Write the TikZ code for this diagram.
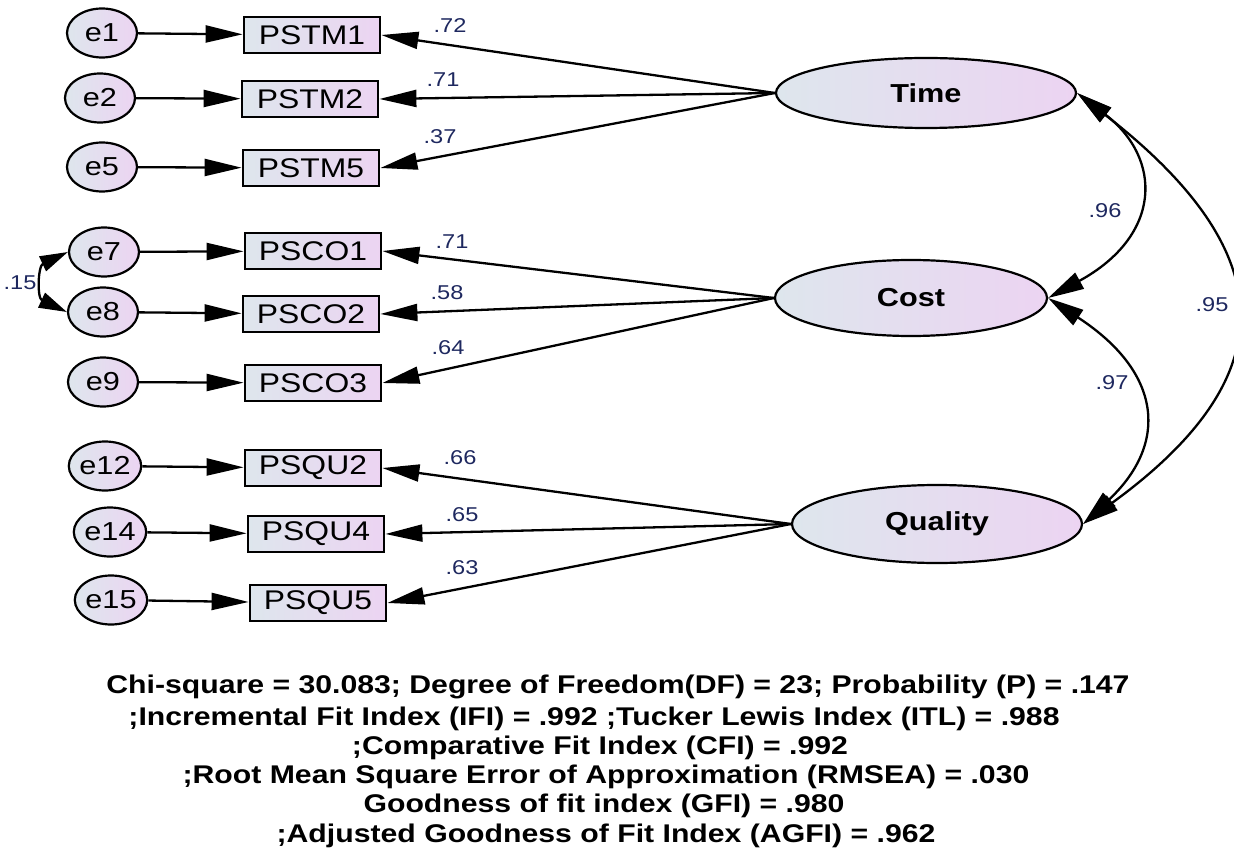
\documentclass[tikz,border=0pt]{standalone}
\usepackage{fontspec}
\setmainfont{Liberation Sans}[FakeStretch=1.18]
\usetikzlibrary{arrows.meta,shapes.geometric}
\definecolor{lblue}{RGB}{222,230,237}
\definecolor{lpurp}{RGB}{236,212,242}
\definecolor{labc}{RGB}{30,40,95}
\begin{document}
\begin{tikzpicture}[x=1pt,y=-1pt,
  errnode/.style={ellipse,draw,line width=2.2pt,left color=lblue,right color=lpurp,minimum width=70pt,minimum height=49pt,inner sep=0pt,font=\fontsize{26}{28}\selectfont},
  obsnode/.style={rectangle,draw,line width=2.8pt,left color=lblue,right color=lpurp,minimum width=136pt,minimum height=36pt,inner sep=0pt,font=\fontsize{27}{28}\selectfont},
  latnode/.style={ellipse,draw,line width=2.2pt,left color=lblue,right color=lpurp,inner sep=0pt,font=\bfseries\fontsize{26}{28}\selectfont},
  loadarr/.style={line width=2.3pt,-{Triangle[length=37pt,width=17pt]}},
  covarr/.style={line width=2.3pt,{Triangle[length=36pt,width=18pt]}-{Triangle[length=36pt,width=18pt]}},
  covsmall/.style={line width=2.3pt,{Triangle[length=28pt,width=16pt]}-{Triangle[length=28pt,width=16pt]}},
  lbl/.style={text=labc,font=\fontsize{20}{22}\selectfont,inner sep=0pt},
  fitline/.style={font=\bfseries\fontsize{25.6}{30}\selectfont,anchor=base,inner sep=0pt}
]
\useasboundingbox (0,0) rectangle (1234,850);

% error terms
\node[errnode] (e1) at (102,33) {e1};
\node[errnode] (e2) at (100,98) {e2};
\node[errnode] (e5) at (102,167) {e5};
\node[errnode] (e7) at (104,252) {e7};
\node[errnode] (e8) at (103,312) {e8};
\node[errnode] (e9) at (103,382) {e9};
\node[errnode] (e12) at (105,466) {e12};
\node[errnode] (e14) at (110,532) {e14};
\node[errnode] (e15) at (111,600) {e15};

% observed
\node[obsnode] (PSTM1) at (312,35) {PSTM1};
\node[obsnode] (PSTM2) at (310,99) {PSTM2};
\node[obsnode] (PSTM5) at (311,168) {PSTM5};
\node[obsnode] (PSCO1) at (313,251) {PSCO1};
\node[obsnode] (PSCO2) at (311,314) {PSCO2};
\node[obsnode] (PSCO3) at (313,383) {PSCO3};
\node[obsnode] (PSQU2) at (313,468) {PSQU2};
\node[obsnode] (PSQU4) at (316,534) {PSQU4};
\node[obsnode] (PSQU5) at (318,603) {PSQU5};

% latent
\node[latnode,minimum width=300pt,minimum height=70pt] (Time) at (926,93) {Time};
\node[latnode,minimum width=272pt,minimum height=76pt] (Cost) at (911,298) {Cost};
\node[latnode,minimum width=290pt,minimum height=78pt] (Quality) at (937,524) {Quality};

% error paths
\foreach \e/\o in {e1/PSTM1,e2/PSTM2,e5/PSTM5,e7/PSCO1,e8/PSCO2,e9/PSCO3,e12/PSQU2,e14/PSQU4,e15/PSQU5}
  \draw[loadarr] (\e) -- (\o);

% loadings
\foreach \o in {PSTM1,PSTM2,PSTM5} \draw[loadarr] (Time.west) -- (\o.east);
\foreach \o in {PSCO1,PSCO2,PSCO3} \draw[loadarr] (Cost.west) -- (\o.east);
\foreach \o in {PSQU2,PSQU4,PSQU5} \draw[loadarr] (Quality.west) -- (\o.east);

% covariances
\draw[covsmall] (e7.west) .. controls +(-30,14) and +(-30,-14) .. (e8.west);
\draw[covarr] (Time.east) .. controls +(85,65) and +(115,-63) .. (Cost.east);
\draw[covarr] (Cost.east) .. controls +(115,75) and +(85,-80) .. (Quality.east);
\draw[covarr] (Time.east) .. controls +(207,161) and +(202,-147) .. (Quality.east);

% labels
\node[lbl] (l1) at (450,26) {.72};
\node[lbl] (l2) at (443,80) {.71};
\node[lbl] (l3) at (440,137) {.37};
\node[lbl] (l4) at (452,242) {.71};
\node[lbl] (l5) at (447,293) {.58};
\node[lbl] (l6) at (448,348) {.64};
\node[lbl] (l7) at (460,458) {.66};
\node[lbl] (l8) at (462,515) {.65};
\node[lbl] (l9) at (462,568) {.63};
\node[lbl] (l10) at (1105,211) {.96};
\node[lbl] (l11) at (1212,305) {.95};
\node[lbl] (l12) at (1112,383) {.97};
\node[lbl] (l13) at (20,283) {.15};

% fit text
\node[fitline] (t1) at (618,693) {Chi-square = 30.083; Degree of Freedom(DF) = 23; Probability (P) = .147};
\node[fitline] (t2) at (594,725) {;Incremental Fit Index (IFI) = .992 ;Tucker Lewis Index (ITL) = .988};
\node[fitline] (t3) at (600,754) {;Comparative Fit Index (CFI) = .992};
\node[fitline] (t4) at (606,783) {;Root Mean Square Error of Approximation (RMSEA) = .030};
\node[fitline] (t5) at (604,812) {Goodness of fit index (GFI) = .980};
\node[fitline] (t6) at (606,842) {;Adjusted Goodness of Fit Index (AGFI) = .962};
\end{tikzpicture}
\end{document}
